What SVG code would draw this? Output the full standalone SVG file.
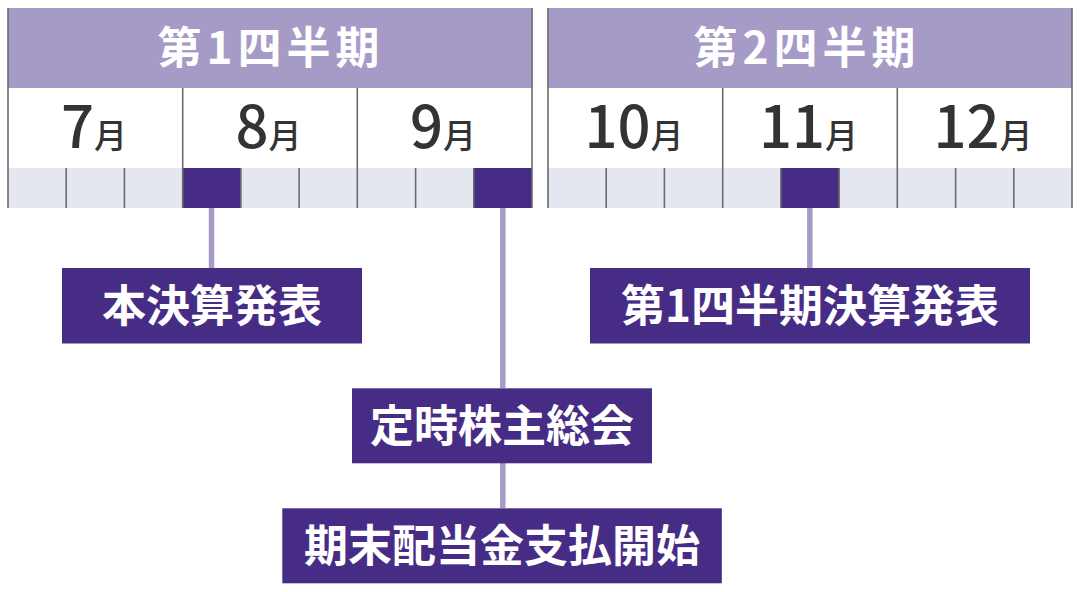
<svg xmlns="http://www.w3.org/2000/svg" width="1080" height="592" viewBox="0 0 1080 592">
<style>
.hdr{fill:#a69bc6}
.mon{fill:#ffffff}
.wk{fill:#e4e7ef}
.hl{fill:#472c86}
.grid{stroke:#6b6b6b;stroke-width:1.6;fill:none}
.conn{stroke:#a89bc8;stroke-width:5.5;fill:none}
.box{fill:#472c86}
.ht{font-family:"Noto Sans CJK JP",sans-serif;font-weight:700;font-size:44px;fill:#ffffff;letter-spacing:5px;text-anchor:middle}
.mt{font-family:"Noto Sans CJK JP",sans-serif;font-weight:500;fill:#333333;text-anchor:middle}
.num{font-size:58px}
.tsu{font-size:33px}
.bt{font-family:"Noto Sans CJK JP",sans-serif;font-weight:700;font-size:44px;fill:#ffffff;text-anchor:middle}
</style>
<rect width="1080" height="592" fill="#ffffff"/>
<g id="q1">
<rect class="hdr" x="8" y="8" width="524" height="80"/>
<rect class="mon" x="8" y="88" width="524" height="80"/>
<rect class="wk" x="8" y="168" width="524" height="40"/>
<rect class="hl" x="182.7" y="168" width="58.2" height="40"/>
<rect class="hl" x="473.8" y="168" width="58.2" height="40"/>
<text class="ht" x="271" y="64">第1四半期</text>
<text class="mt" x="94" y="147.5"><tspan class="num">7</tspan><tspan class="tsu">月</tspan></text>
<text class="mt" x="268.5" y="147.5"><tspan class="num">8</tspan><tspan class="tsu">月</tspan></text>
<text class="mt" x="443" y="147.5"><tspan class="num">9</tspan><tspan class="tsu">月</tspan></text>
<path class="grid" d="M8,8V208M532,8V208M182.7,88V208M357.3,88V208M66.2,168V208M124.4,168V208M240.9,168V208M299.1,168V208M415.6,168V208M473.8,168V208"/>
</g>
<g id="q2">
<rect class="hdr" x="548" y="8" width="524" height="80"/>
<rect class="mon" x="548" y="88" width="524" height="80"/>
<rect class="wk" x="548" y="168" width="524" height="40"/>
<rect class="hl" x="780.9" y="168" width="58.2" height="40"/>
<text class="ht" x="807" y="64">第2四半期</text>
<text class="mt" x="634" y="147.5"><tspan class="num">10</tspan><tspan class="tsu">月</tspan></text>
<text class="mt" x="808.5" y="147.5"><tspan class="num">11</tspan><tspan class="tsu">月</tspan></text>
<text class="mt" x="983" y="147.5"><tspan class="num">12</tspan><tspan class="tsu">月</tspan></text>
<path class="grid" d="M548,8V208M1072,8V208M722.7,88V208M897.3,88V208M606.2,168V208M664.4,168V208M780.9,168V208M839.1,168V208M955.6,168V208M1013.8,168V208"/>
</g>
<g id="connectors">
<path class="conn" d="M211.5,208V268"/>
<path class="conn" d="M502.8,208V388"/>
<path class="conn" d="M502.8,463V508"/>
<path class="conn" d="M809.8,208V268"/>
</g>
<g id="n-honkessan">
<rect class="box" x="62" y="268" width="300" height="75.5"/>
<text class="bt" x="212" y="322">本決算発表</text>
</g>
<g id="n-soukai">
<rect class="box" x="352" y="388.3" width="300" height="75"/>
<text class="bt" x="502" y="442">定時株主総会</text>
</g>
<g id="n-haitou">
<rect class="box" x="282.3" y="508.3" width="439.5" height="75"/>
<text class="bt" x="502" y="562">期末配当金支払開始</text>
</g>
<g id="n-q1kessan">
<rect class="box" x="590" y="268" width="440" height="75.5"/>
<text class="bt" x="810" y="322">第1四半期決算発表</text>
</g>
</svg>
